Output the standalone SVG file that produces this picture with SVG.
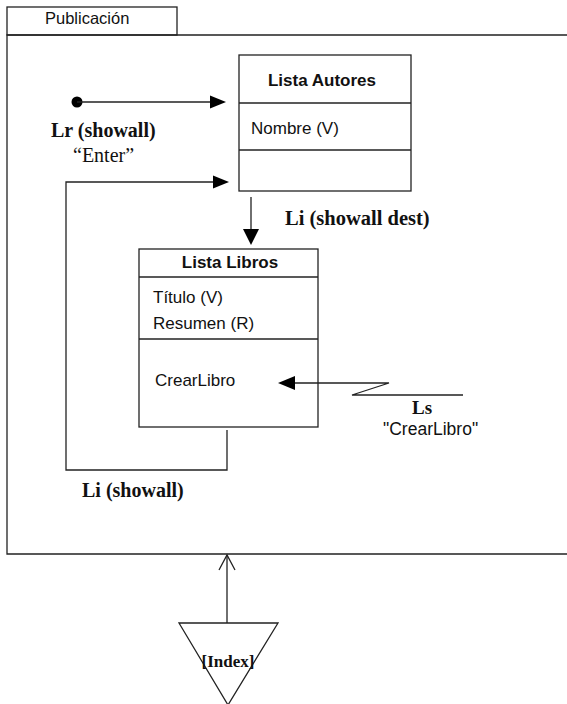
<svg xmlns="http://www.w3.org/2000/svg" width="567" height="704" viewBox="0 0 567 704">
  <style>
    .box { fill: #ffffff; stroke: #222222; stroke-width: 1.3; }
    .line { fill: none; stroke: #222222; stroke-width: 1.3; }
    .head { fill: #000000; stroke: none; }
    .sans { font-family: "Liberation Sans", Arial, sans-serif; font-size: 17px; fill: #111111; }
    .title { font-family: "Liberation Sans", Arial, sans-serif; font-size: 17px; font-weight: bold; fill: #111111; }
    .serif { font-family: "Liberation Serif", "Times New Roman", serif; font-size: 20px; fill: #111111; }
    .serifb { font-family: "Liberation Serif", "Times New Roman", serif; font-size: 20px; font-weight: bold; fill: #111111; }
  </style>
  <rect width="567" height="704" fill="#ffffff"/>

  <!-- Page frame with its name tab -->
  <g id="frame">
    <rect class="box" x="7" y="7" width="170" height="28"/>
    <text class="sans" x="45" y="24" style="font-size:16.5px">Publicación</text>
    <path class="line" d="M567 35 H7 V554 H567"/>
  </g>

  <!-- Index node -->
  <g id="index">
    <polygon class="box" points="179,623 278,623 228,705"/>
    <text class="serifb" x="228" y="667" text-anchor="middle" style="font-size:17px">[Index]</text>
  </g>

  <!-- Lista Autores -->
  <g id="lista-autores">
    <rect class="box" x="239" y="55" width="172" height="136"/>
    <line class="line" x1="239" y1="103" x2="411" y2="103"/>
    <line class="line" x1="239" y1="150" x2="411" y2="150"/>
    <text class="title" x="322" y="86" text-anchor="middle">Lista Autores</text>
    <text class="sans" x="251" y="134">Nombre (V)</text>
  </g>

  <!-- Lista Libros -->
  <g id="lista-libros">
    <rect class="box" x="139" y="249" width="179" height="178"/>
    <line class="line" x1="139" y1="277" x2="318" y2="277"/>
    <line class="line" x1="139" y1="339" x2="318" y2="339"/>
    <text class="title" x="230" y="268" text-anchor="middle">Lista Libros</text>
    <text class="sans" x="153" y="303">Título (V)</text>
    <text class="sans" x="153" y="329">Resumen (R)</text>
    <text class="sans" x="155" y="386">CrearLibro</text>
  </g>

  <!-- Connectors -->
  <g id="connectors">
    <!-- entry point into Lista Autores -->
    <circle cx="77" cy="102" r="5.5" fill="#000000"/>
    <line class="line" x1="77" y1="102" x2="212" y2="102"/>
    <polygon class="head" points="210,95.5 226,102 210,108.5"/>
    <text class="serifb" x="51" y="137">Lr (showall)</text>
    <text class="serif" x="73" y="162">“Enter”</text>

    <!-- Lista Autores to Lista Libros -->
    <line class="line" x1="251" y1="197" x2="251" y2="231"/>
    <polygon class="head" points="243,229 259,229 251,245"/>
    <text class="serifb" x="285" y="225" style="font-size:20.5px">Li (showall dest)</text>

    <!-- Lista Libros back to Lista Autores -->
    <path class="line" d="M227 430 V470 H66 V182 H215"/>
    <polygon class="head" points="213,175.5 229,182 213,188.5"/>
    <text class="serifb" x="82" y="497">Li (showall)</text>

    <!-- CrearLibro service link -->
    <path class="line" d="M463 395 H352 L389 383 H293"/>
    <polygon class="head" points="295,376 278,383 295,390"/>
    <text class="serifb" x="412" y="414" style="font-size:19px">Ls</text>
    <text class="sans" x="383" y="435" style="font-size:17.5px">"CrearLibro"</text>

    <!-- Index to frame -->
    <line class="line" x1="227" y1="623" x2="227" y2="555"/>
    <path class="line" d="M219 570 L227 555 L235 570"/>
  </g>
</svg>
